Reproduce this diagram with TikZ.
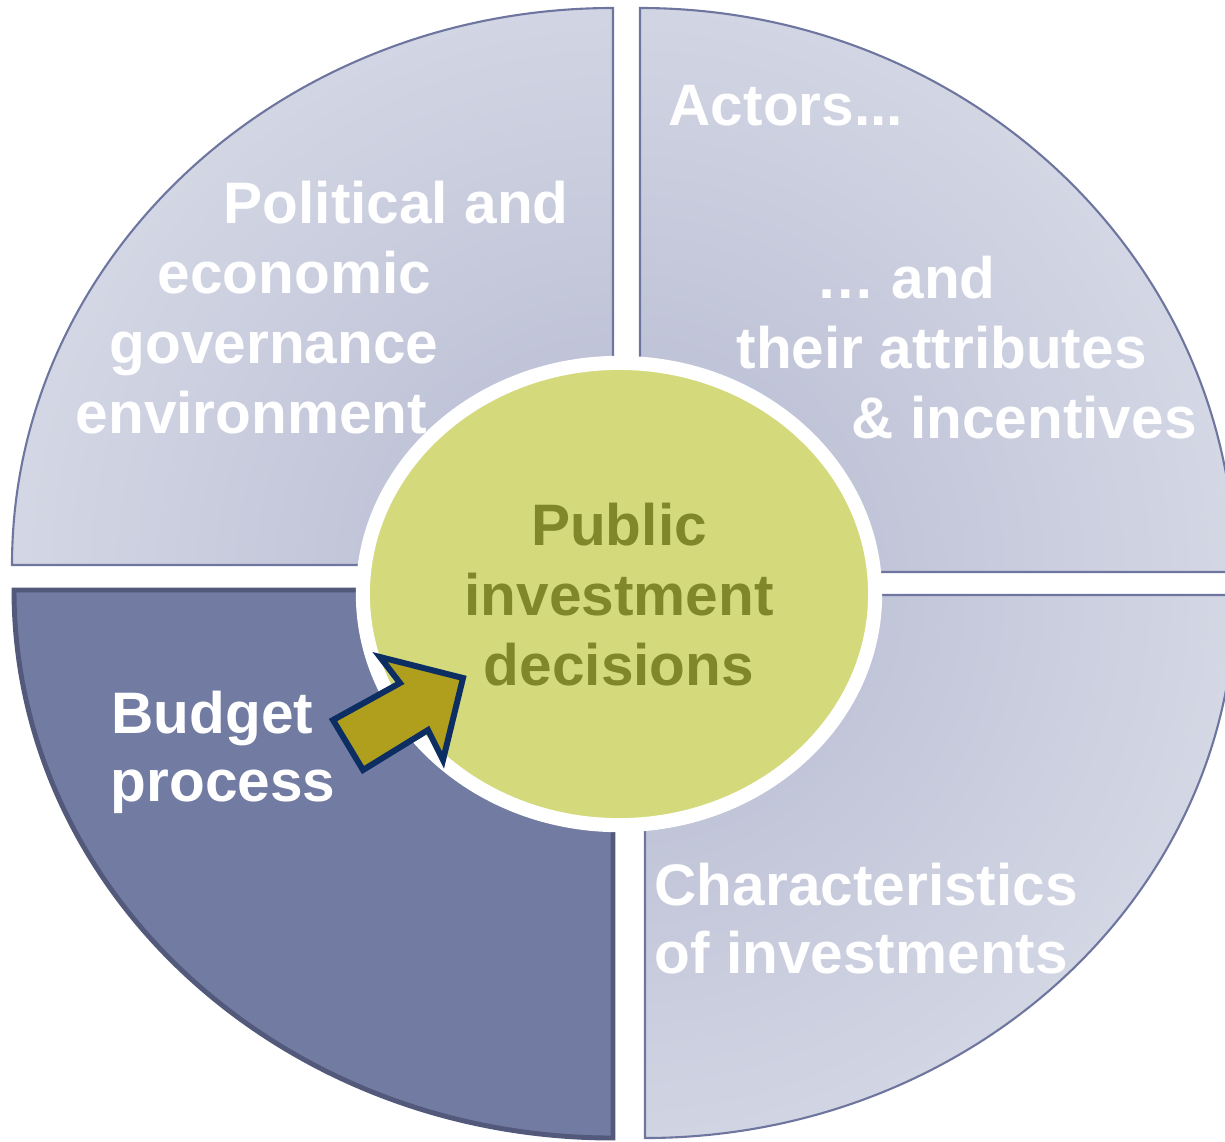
\documentclass[tikz,border=0pt]{standalone}
\usepackage{fontspec}
\setmainfont{Liberation Sans}
\usetikzlibrary{shapes.geometric}
\definecolor{qin}{RGB}{180,184,208}
\definecolor{qout}{RGB}{224,227,236}
\definecolor{qline}{RGB}{110,118,160}
\definecolor{qdark}{RGB}{114,123,162}
\definecolor{qdarkline}{RGB}{82,89,122}
\definecolor{pidgreen}{RGB}{212,218,124}
\definecolor{pidtext}{RGB}{128,135,42}
\definecolor{arrowfill}{RGB}{176,159,28}
\definecolor{arrowline}{RGB}{12,46,99}
\begin{document}
\begin{tikzpicture}[x=0.01cm,y=0.01cm,
  lbl/.style={font=\fontsize{16.65}{20}\selectfont\bfseries, text=white, inner sep=0pt, anchor=base west},
  ctr/.style={font=\fontsize{16.65}{20}\selectfont\bfseries, text=pidtext, inner sep=0pt, anchor=base},
  lightq/.style={draw=qline, line width=0.6pt},
  darkq/.style={draw=qdarkline, fill=qdark, line width=1.4pt}]
\useasboundingbox (0,0) rectangle (1225,1141);
\clip (0,0) rectangle (1225,1141);
% top-left quadrant
\begin{scope}
  \clip (613,576) -- (12,576) arc[start angle=180, end angle=90, x radius=601, y radius=557] -- cycle;
  \shade[inner color=qin, outer color=qout] (620,561) circle (850);
\end{scope}
\draw[lightq] (613,576) -- (12,576) arc[start angle=180, end angle=90, x radius=601, y radius=557] -- cycle;
% top-right quadrant
\begin{scope}
  \clip (640,569) -- (640,1133) arc[start angle=90, end angle=0, x radius=595, y radius=564] -- cycle;
  \shade[inner color=qin, outer color=qout] (620,561) circle (850);
\end{scope}
\draw[lightq] (640,569) -- (640,1133) arc[start angle=90, end angle=0, x radius=595, y radius=564] -- cycle;
% bottom-right quadrant
\begin{scope}
  \clip (645,546) -- (1235,546) arc[start angle=0, end angle=-90, x radius=590, y radius=543] -- cycle;
  \shade[inner color=qin, outer color=qout] (620,561) circle (850);
\end{scope}
\draw[lightq] (645,546) -- (1235,546) arc[start angle=0, end angle=-90, x radius=590, y radius=543] -- cycle;
% bottom-left quadrant (dark)
\draw[darkq] (613,551) -- (613,3) arc[start angle=-90, end angle=-180, x radius=599, y radius=548] -- cycle;
% centre
\node[ellipse, draw=white, line width=4pt, fill=pidgreen, minimum width=5.12cm, minimum height=4.62cm, inner sep=0pt] (pid) at (619,547) {};
% arrow
\draw[fill=arrowfill, draw=arrowline, line width=1.7pt, line join=miter]
  (333,421) -- (400,458) -- (380,484) -- (463,463) -- (443,381) -- (428,411) -- (363,371) -- cycle;
% labels
\node[lbl] (t1) at (223,918) {Political and};
\node[lbl] (t2) at (157,848) {economic};
\node[lbl] (t3) at (109,778) {governance};
\node[lbl] (t4) at (75,708) {environment};
\node[lbl] (a1) at (668,1016) {Actors...};
\node[lbl] (a2) at (816,843) {… and};
\node[lbl] (a3) at (736,773) {their attributes};
\node[lbl] (a4) at (851,703) {\& incentives};
\node[lbl] (b1) at (111,408) {Budget};
\node[lbl] (b2) at (110,340) {process};
\node[lbl] (c1) at (654,236) {Characteristics};
\node[lbl] (c2) at (654,168) {of investments};
\node[ctr] (p1) at (619,596) {Public};
\node[ctr] (p2) at (619,526) {investment};
\node[ctr] (p3) at (619,456) {decisions};
\end{tikzpicture}
\end{document}
